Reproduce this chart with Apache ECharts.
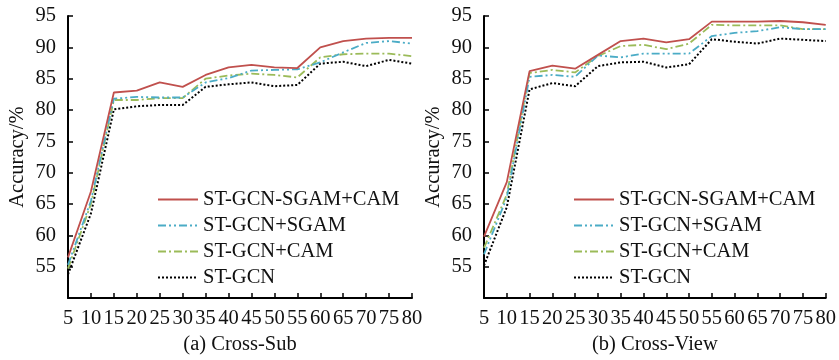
<!DOCTYPE html>
<html>
<head>
<meta charset="utf-8">
<script src="https://cdn.jsdelivr.net/npm/echarts@6/dist/echarts.min.js"></script>
<style>
  html, body { margin: 0; padding: 0; background: #fff; }
  #chart { width: 839px; height: 360px; }
</style>
</head>
<body>
<div id="chart"></div>
<script>
// epochs on the x axis
const epochs = ['5', '10', '15', '20', '25', '30', '35', '40', '45', '50', '55', '60', '65', '70', '75', '80']
const seriesNames = ['ST-GCN-SGAM+CAM', 'ST-GCN+SGAM', 'ST-GCN+CAM', 'ST-GCN']

// (a) Cross-Sub
const subSgamCam = [56.5, 67.0, 82.8, 83.1, 84.4, 83.7, 85.6, 86.8, 87.2, 86.8, 86.7, 90.0, 91.0, 91.4, 91.5, 91.5]
const subSgam = [55.3, 65.5, 81.8, 82.1, 82.0, 82.0, 84.4, 85.1, 86.3, 86.4, 86.5, 87.6, 89.2, 90.7, 91.0, 90.6]
const subCam = [54.7, 65.0, 81.6, 81.6, 81.9, 81.9, 85.0, 85.5, 85.8, 85.6, 85.2, 88.4, 88.9, 89.0, 89.0, 88.6]
const subBase = [53.8, 63.5, 80.1, 80.6, 80.8, 80.8, 83.7, 84.1, 84.4, 83.8, 84.0, 87.4, 87.7, 87.0, 88.0, 87.4]

// (b) Cross-View
const viewSgamCam = [59.8, 68.5, 86.2, 87.1, 86.6, 88.8, 91.0, 91.4, 90.8, 91.3, 94.1, 94.1, 94.1, 94.2, 94.0, 93.6]
const viewSgam = [57.0, 66.0, 85.3, 85.6, 85.3, 88.7, 88.4, 89.0, 89.0, 89.0, 91.8, 92.3, 92.6, 93.2, 92.9, 92.9]
const viewCam = [58.0, 66.5, 85.9, 86.4, 86.0, 88.6, 90.2, 90.4, 89.7, 90.6, 93.6, 93.5, 93.5, 93.5, 92.9, 92.9]
const viewBase = [55.2, 64.5, 83.3, 84.3, 83.8, 87.0, 87.6, 87.7, 86.8, 87.3, 91.3, 90.9, 90.6, 91.4, 91.2, 91.0]

const font = 'Liberation Serif'
const fontSize = 20.5
const styles = [
  { color: '#c0504d', type: 'solid', width: 1.8 },
  { color: '#4bacc6', type: [8, 3, 2, 3, 2, 3], width: 1.8 },
  { color: '#9bbb59', type: [8, 3, 2, 3], width: 1.8 },
  { color: '#000000', type: [2, 2], width: 2 }
]

function xAxis(gridIndex, title) {
  return {
    type: 'category',
    gridIndex,
    data: epochs,
    boundaryGap: false,
    name: title,
    nameLocation: 'middle',
    nameGap: 34,
    nameTextStyle: { fontFamily: font, fontSize, color: '#111' },
    axisLine: { lineStyle: { color: '#000', width: 2 } },
    axisTick: { inside: true, length: 5, alignWithLabel: true, lineStyle: { color: '#000', width: 1.5 } },
    axisLabel: { interval: 0, margin: 10, fontFamily: font, fontSize, color: '#111' },
    splitLine: { show: false }
  }
}

function yAxis(gridIndex) {
  return {
    type: 'value',
    gridIndex,
    min: 50,
    max: 95,
    interval: 5,
    name: 'Accuracy/%',
    nameLocation: 'middle',
    nameGap: 40,
    nameTextStyle: { fontFamily: font, fontSize, color: '#111' },
    axisLine: { show: true, lineStyle: { color: '#000', width: 2 } },
    axisTick: { show: true, inside: true, length: 5, lineStyle: { color: '#000', width: 1.5 } },
    axisLabel: {
      margin: 12,
      fontFamily: font,
      fontSize,
      color: '#111',
      formatter: v => (v === 50 ? '' : v)
    },
    splitLine: { show: false }
  }
}

function lineSeries(idx, gridIndex, data) {
  return {
    name: seriesNames[idx],
    type: 'line',
    xAxisIndex: gridIndex,
    yAxisIndex: gridIndex,
    data,
    symbol: 'none',
    smooth: false,
    lineStyle: styles[idx],
    itemStyle: { color: styles[idx].color },
    z: 10 - idx
  }
}

function legend(left) {
  return {
    left,
    top: 184,
    orient: 'vertical',
    itemWidth: 40,
    itemHeight: 12,
    itemGap: 5,
    selectedMode: false,
    data: seriesNames,
    // hide the circle marker, keep only the line sample
    itemStyle: { opacity: 0 },
    textStyle: { fontFamily: font, fontSize, color: '#111' }
  }
}

const chart = echarts.init(document.getElementById('chart'))
chart.setOption({
  animation: false,
  backgroundColor: '#fff',
  grid: [
    { left: 68, right: 427, top: 16, bottom: 55 },
    { left: 484, right: 11, top: 16, bottom: 55 }
  ],
  legend: [legend(152), legend(568)],
  xAxis: [xAxis(0, '(a) Cross-Sub'), xAxis(1, '(b) Cross-View')],
  yAxis: [yAxis(0), yAxis(1)],
  series: [
    lineSeries(0, 0, subSgamCam),
    lineSeries(1, 0, subSgam),
    lineSeries(2, 0, subCam),
    lineSeries(3, 0, subBase),
    lineSeries(0, 1, viewSgamCam),
    lineSeries(1, 1, viewSgam),
    lineSeries(2, 1, viewCam),
    lineSeries(3, 1, viewBase)
  ]
})
</script>
</body>
</html>
